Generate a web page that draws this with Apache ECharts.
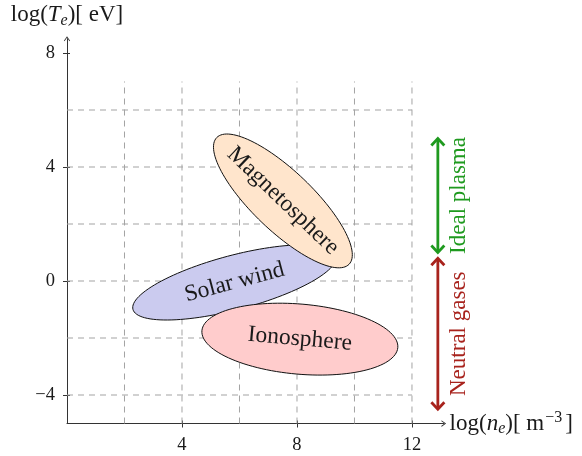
<!DOCTYPE html>
<html>
<head>
<meta charset="utf-8">
<script src="https://cdn.jsdelivr.net/npm/echarts@6/dist/echarts.min.js"></script>
<style>
  html, body { margin: 0; padding: 0; background: #fff; }
  #chart { width: 582px; height: 456px; }
</style>
</head>
<body>
<div id="chart"></div>
<script>
// Axis extents (log10 of density in m^-3, log10 of temperature in eV)
const xMin = 0, xMax = 13.1;
const yMin = -5, yMax = 8.5;
const xTicks = [4, 8, 12];
const yTicks = [-4, 0, 4, 8];

// Dashed background grid
const gridXs = [2, 4, 6, 8, 10, 12];
const gridYs = [-4, -2, 0, 2, 4, 6];
const gridXRange = [0, 12];
const gridYRange = [-5, 7];

// Plasma regions, drawn as ellipses (centre, semi-axes, tilt in degrees)
const regionNames = ['Solar wind', 'Ionosphere', 'Magnetosphere'];
const regionCenterX = [5.83, 8.1, 7.51];
const regionCenterY = [-0.05, -2.04, 2.81];
const regionSemiMajor = [3.66, 3.42, 3.2];
const regionSemiMinor = [0.95, 1.23, 1.05];
const regionTilt = [15, -5, -44];
const regionColors = ['#cbcbef', '#ffcccc', '#ffe5cc'];

// Temperature ranges marked on the right-hand side
const rangeNames = ['Ideal plasma', 'Neutral gases'];
const rangeX = [12.9, 12.9];
const rangeLow = [1.0, -4.5];
const rangeHigh = [5.0, 0.8];
const rangeColors = ['#1f9a1f', '#a8231d'];

const SERIF = '"Liberation Serif", "DejaVu Serif", serif';
const INK = '#1a1a1a';
const AXIS = '#333';

const chart = echarts.init(document.getElementById('chart'), null, { renderer: 'canvas' });

const minusFmt = v => String(v).replace('-', '\u2212');
const openArrow = 'path://M5,0 L10,7 L9,8 L5,2.4 L1,8 L0,7 Z';

function ellipseItem(params, api) {
  const i = api.value(2);
  const cx = api.value(0), cy = api.value(1);
  const a = regionSemiMajor[i], b = regionSemiMinor[i];
  const t = regionTilt[i] * Math.PI / 180;
  const ct = Math.cos(t), st = Math.sin(t);
  const pts = [];
  const n = 120;
  for (let k = 0; k < n; k++) {
    const ang = 2 * Math.PI * k / n;
    const u = a * Math.cos(ang), v = b * Math.sin(ang);
    pts.push(api.coord([cx + u * ct - v * st, cy + u * st + v * ct]));
  }
  const c = api.coord([cx, cy]);
  const e = api.coord([cx + a * ct, cy + a * st]);
  const rot = Math.atan2(-(e[1] - c[1]), e[0] - c[0]);
  return {
    type: 'group',
    children: [
      {
        type: 'polygon',
        shape: { points: pts },
        style: { fill: regionColors[i], stroke: '#111', lineWidth: 1 }
      },
      {
        type: 'text',
        x: c[0], y: c[1],
        rotation: rot,
        style: {
          text: regionNames[i],
          font: '23.5px ' + SERIF,
          fill: INK,
          align: 'center',
          verticalAlign: 'middle'
        }
      }
    ]
  };
}

function rangeItem(params, api) {
  const i = api.value(3);
  const top = api.coord([api.value(0), api.value(2)]);
  const bot = api.coord([api.value(0), api.value(1)]);
  const x = top[0];
  const col = rangeColors[i];
  const lw = 2.8;
  const head = 7, hw = 6.5;
  return {
    type: 'group',
    children: [
      { type: 'line', shape: { x1: x, y1: top[1] + 1, x2: x, y2: bot[1] - 1 },
        style: { stroke: col, lineWidth: lw } },
      { type: 'polyline', shape: { points: [[x - hw, top[1] + head], [x, top[1]], [x + hw, top[1] + head]] },
        style: { stroke: col, lineWidth: lw, fill: null, lineJoin: 'miter' } },
      { type: 'polyline', shape: { points: [[x - hw, bot[1] - head], [x, bot[1]], [x + hw, bot[1] - head]] },
        style: { stroke: col, lineWidth: lw, fill: null, lineJoin: 'miter' } },
      { type: 'text', x: x + 21, y: (top[1] + bot[1]) / 2, rotation: Math.PI / 2,
        style: { text: rangeNames[i], font: '23px ' + SERIF, fill: col,
                 align: 'center', verticalAlign: 'middle' } }
    ]
  };
}

const dashStyle = { stroke: '#a3a3a3', lineWidth: 1, lineDash: [6, 5] };

const option = {
  animation: false,
  backgroundColor: '#fff',
  grid: { left: 67, right: 582 - 443.6, top: 38.75, bottom: 32.5, containLabel: false },
  xAxis: [
    {
      type: 'value', min: xMin, max: xMax,
      name: '{n|log(}{i|n}{s|e}{n|)[ m}{p|\u22123}{n|]}',
      nameLocation: 'end', nameGap: 6,
      nameTextStyle: {
        rich: {
          n: { fontFamily: SERIF, fontSize: 23, color: INK, lineHeight: 27 },
          i: { fontFamily: SERIF, fontSize: 23, fontStyle: 'italic', color: INK, lineHeight: 27 },
          s: { fontFamily: SERIF, fontSize: 16, fontStyle: 'italic', color: INK, lineHeight: 12, verticalAlign: 'bottom' },
          p: { fontFamily: SERIF, fontSize: 16, color: INK, lineHeight: 12, verticalAlign: 'top', padding: [0, 3, 0, 1] }
        }
      },
      axisLine: { show: true, onZero: false, symbol: ['none', openArrow], symbolSize: [8, 5],
                  lineStyle: { color: AXIS, width: 1 } },
      axisTick: { show: true, customValues: xTicks, length: 4, lineStyle: { color: AXIS } },
      axisLabel: { customValues: xTicks, margin: 12, fontFamily: SERIF, fontSize: 18.5, color: INK,
                   formatter: minusFmt },
      splitLine: { show: false }
    },
    {
      type: 'value', min: xMin, max: xMax, position: 'bottom',
      axisLine: { show: false, onZero: false },
      axisTick: { show: true, inside: true, customValues: xTicks, length: 3, lineStyle: { color: AXIS } },
      axisLabel: { show: false },
      splitLine: { show: false }
    }
  ],
  yAxis: [
    {
      type: 'value', min: yMin, max: yMax,
      name: '{n|log(}{i|T}{s|e}{n|)[ eV]}',
      nameLocation: 'end', nameGap: 10,
      nameTextStyle: {
        rich: {
          n: { fontFamily: SERIF, fontSize: 23, color: INK, lineHeight: 27 },
          i: { fontFamily: SERIF, fontSize: 23, fontStyle: 'italic', color: INK, lineHeight: 27 },
          s: { fontFamily: SERIF, fontSize: 16, fontStyle: 'italic', color: INK, lineHeight: 12, verticalAlign: 'bottom' }
        }
      },
      axisLine: { show: true, onZero: false, symbol: ['none', openArrow], symbolSize: [8, 5],
                  lineStyle: { color: AXIS, width: 1 } },
      axisTick: { show: true, customValues: yTicks, length: 4, lineStyle: { color: AXIS } },
      axisLabel: { customValues: yTicks, margin: 12, fontFamily: SERIF, fontSize: 18.5, color: INK,
                   formatter: minusFmt },
      splitLine: { show: false }
    },
    {
      type: 'value', min: yMin, max: yMax, position: 'left',
      axisLine: { show: false, onZero: false },
      axisTick: { show: true, inside: true, customValues: yTicks, length: 3, lineStyle: { color: AXIS } },
      axisLabel: { show: false },
      splitLine: { show: false }
    }
  ],
  series: [
    {
      type: 'custom', name: 'grid-x', z: 1, silent: true,
      data: gridXs.map(v => [v, gridYRange[0]]),
      renderItem: (p, api) => {
        const a = api.coord([api.value(0), gridYRange[0]]);
        const b = api.coord([api.value(0), gridYRange[1]]);
        return { type: 'line', shape: { x1: a[0], y1: a[1], x2: b[0], y2: b[1] }, style: dashStyle };
      }
    },
    {
      type: 'custom', name: 'grid-y', z: 1, silent: true,
      data: gridYs.map(v => [gridXRange[0], v]),
      renderItem: (p, api) => {
        const a = api.coord([gridXRange[0], api.value(1)]);
        const b = api.coord([gridXRange[1], api.value(1)]);
        return { type: 'line', shape: { x1: a[0], y1: a[1], x2: b[0], y2: b[1] }, style: dashStyle };
      }
    },
    {
      type: 'custom', name: 'regions', z: 3, clip: false,
      data: regionNames.map((_, i) => [regionCenterX[i], regionCenterY[i], i]),
      encode: { x: 0, y: 1 },
      renderItem: ellipseItem
    },
    {
      type: 'custom', name: 'ranges', z: 3, clip: false,
      data: rangeNames.map((_, i) => [rangeX[i], rangeLow[i], rangeHigh[i], i]),
      encode: { x: 0, y: [1, 2] },
      renderItem: rangeItem
    }
  ]
};

chart.setOption(option);
</script>
</body>
</html>
